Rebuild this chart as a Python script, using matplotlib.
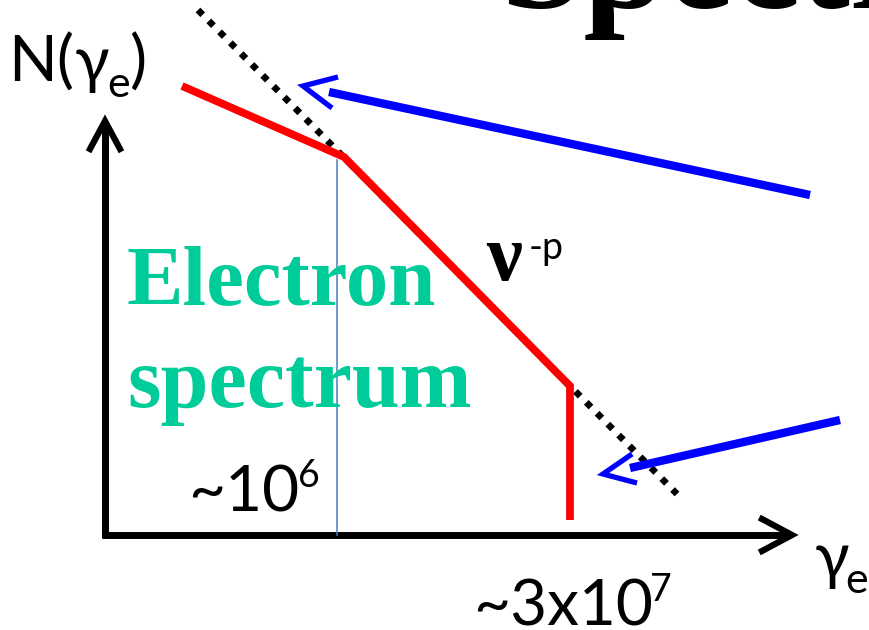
import matplotlib
matplotlib.use("Agg")
import matplotlib.pyplot as plt

W, H = 869, 630

# schematic spectrum (pixel space, y downwards)
spec_x = [182, 344, 570, 570]
spec_y = [86, 157, 386, 520]
slope_x = [198, 677]
slope_y = [10, 494]
break_x = [337, 337]
break_y = [160, 535]

# axes of the sketch
yaxis_x, yaxis_y = [105, 105], [124, 538]
xaxis_x, xaxis_y = [102, 790], [535, 535]
yhead_x, yhead_y = [90, 105, 120], [149, 121, 149]
xhead_x, xhead_y = [762, 792, 762], [519, 535, 551]

# pointer arrows
arr1_x, arr1_y = [810, 329], [195, 92]
head1_x, head1_y = [338, 303, 332], [77, 86, 108]
arr2_x, arr2_y = [840, 630], [420, 468]
head2_x, head2_y = [632, 603, 637], [454, 474, 483]

SANS = ["Lato", "DejaVu Sans"]
SERIF = ["Liberation Serif", "DejaVu Serif"]
TEAL = "#00cc99"
BLUE = "#0000ff"

fig = plt.figure(figsize=(W / 100, H / 100), dpi=100, facecolor="white")
ax = fig.add_axes([0, 0, 1, 1])
ax.set_xlim(0, W)
ax.set_ylim(H, 0)
ax.axis("off")

# big heading, mostly cut off at the top
ax.text(500, 8, "Spectrum", family=SERIF, weight="bold", fontsize=108,
        color="black", ha="left", va="baseline")

# axes with open arrow heads
ax.plot(yaxis_x, yaxis_y, color="black", lw=5, solid_capstyle="butt")
ax.plot(xaxis_x, xaxis_y, color="black", lw=5, solid_capstyle="butt")
ax.plot(yhead_x, yhead_y, color="black", lw=4.5, solid_joinstyle="miter")
ax.plot(xhead_x, xhead_y, color="black", lw=4.5, solid_joinstyle="miter")

# dotted power-law guide, spectrum on top
ax.plot(slope_x, slope_y, color="black", lw=4.8, linestyle=(0, (1, 1.3)),
        dash_capstyle="butt")
ax.plot(spec_x, spec_y, color="#ff0000", lw=5.6, solid_capstyle="butt",
        solid_joinstyle="miter")

# pointers
ax.plot(arr1_x, arr1_y, color=BLUE, lw=6, solid_capstyle="butt")
ax.plot(head1_x, head1_y, color=BLUE, lw=3.8, solid_capstyle="butt",
        solid_joinstyle="miter")
ax.plot(arr2_x, arr2_y, color=BLUE, lw=6, solid_capstyle="butt")
ax.plot(head2_x, head2_y, color=BLUE, lw=3.8, solid_capstyle="butt",
        solid_joinstyle="miter")

# labels
ax.text(127, 305, "Electron", family=SERIF, weight="bold", fontsize=61,
        color=TEAL, va="baseline")
ax.text(127, 407, "spectrum", family=SERIF, weight="bold", fontsize=62,
        color=TEAL, va="baseline")

ax.plot(break_x, break_y, color="#4a7ebb", lw=1.1)

ax.text(8, 82, "N(", family=SANS, fontsize=46, va="baseline")
ax.text(75, 82, "\u03b3", family=SANS, fontsize=46, va="baseline")
ax.text(107, 97, "e", family=SANS, fontsize=31, va="baseline")
ax.text(130, 82, ")", family=SANS, fontsize=46, va="baseline")

ax.text(815, 578, "\u03b3", family=SANS, fontsize=46, va="baseline")
ax.text(845, 593, "e", family=SANS, fontsize=31, va="baseline")

ax.text(486, 280, "\u03bd", family=SERIF, weight="bold", fontsize=58,
        va="baseline")
ax.text(529, 259, "-p", family=SANS, fontsize=27, va="baseline")

ax.text(188, 511, "~10", family=SANS, fontsize=46, va="baseline")
ax.text(298, 487, "6", family=SANS, fontsize=27, va="baseline")

ax.text(473, 625, "~3x10", family=SANS, fontsize=46, va="baseline")
ax.text(650, 601, "7", family=SANS, fontsize=27, va="baseline")

fig.savefig("out.png", dpi=100, facecolor="white")
